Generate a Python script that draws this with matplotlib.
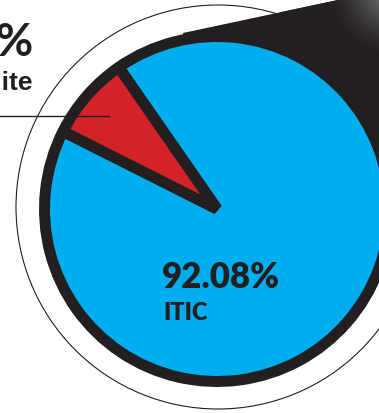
import numpy as np
import matplotlib.pyplot as plt
from matplotlib.patches import Polygon, Circle

# --- data ---
shares = [92.08, 7.92]
names = ['ITIC', 'Graphite']
pct_labels = ['92.08%', '7.92%']
colors = ['#00aeef', '#d2232a']
dark = '#231f20'

W, H = 379, 414


def py(y):
    # picture rows (top down) -> axes y (bottom up)
    return H - y


fig = plt.figure(figsize=(W / 100, H / 100), dpi=100)
ax = fig.add_axes([0, 0, 1, 1])

cx, cy = 217, py(210)

# thin outer ring
ax.add_patch(Circle((218, py(208)), 202, fill=False, ec=dark, lw=0.8, zorder=1))

# dark call-out wedge running off to the upper right
callout = Polygon([(183, py(34)), (460, py(-25)), (460, py(300)), (cx, cy)],
                  closed=True, fc=dark, ec='none', zorder=2)
ax.add_patch(callout)

# soft grey highlight in the corner of the call-out
gx = np.linspace(280, 400, 240)
gy = np.linspace(py(100), py(-20), 240)
GX, GY = np.meshgrid(gx, gy)
d = np.hypot(GX - 395, GY - py(-10))
t = np.clip(1 - d / 70, 0, 1) ** 1.6
img = np.zeros(GX.shape + (4,))
base = np.array([0x23, 0x1f, 0x20]) / 255
hi = np.array([0.56, 0.56, 0.57])
img[..., :3] = base + (hi - base) * t[..., None]
img[..., 3] = 1
im = ax.imshow(img, extent=[gx[0], gx[-1], gy[0], gy[-1]], origin='lower',
               zorder=2.5, interpolation='bilinear')
im.set_clip_path(callout)

# the pie itself
wedges, _ = ax.pie(shares, colors=colors, startangle=153.25, counterclock=True,
                   center=(cx, cy), radius=172.5,
                   wedgeprops=dict(edgecolor=dark, linewidth=7.9, joinstyle='bevel'))
for w in wedges:
    w.set_zorder(3)

# labels
ax.text(162, py(288), pct_labels[0], ha='left', va='baseline', fontsize=25,
        fontweight='heavy', family='Lato', color=dark, zorder=5)
ax.text(163, py(320), names[0], ha='left', va='baseline', fontsize=17,
        fontweight='heavy', family='Lato', color=dark, zorder=5)

ax.text(34, py(56), pct_labels[1], ha='right', va='baseline', fontsize=33,
        fontweight='bold', family='Lato', color=dark, zorder=5)
ax.text(33, py(90), names[1], ha='right', va='baseline', fontsize=19,
        fontweight='bold', family='Liberation Sans', color=dark, zorder=5)

# leader line into the red slice
ax.plot([0, 109], [py(117), py(117)], color=dark, lw=1.0, zorder=6)

ax.set_xlim(0, W)
ax.set_ylim(0, H)
ax.set_aspect('auto')
ax.axis('off')

fig.savefig('out.png', dpi=100, facecolor='white')
